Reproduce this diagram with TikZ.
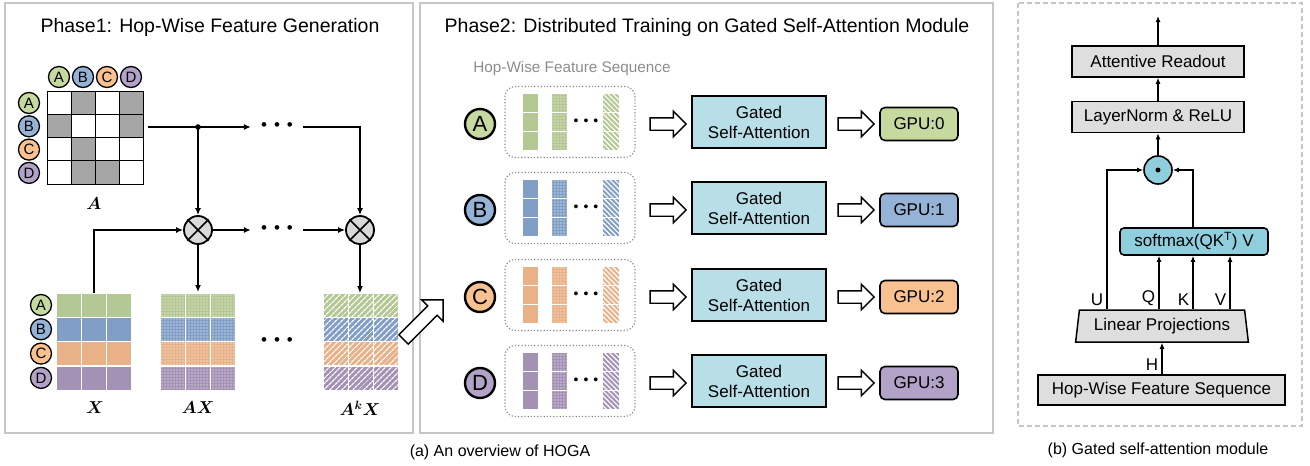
\documentclass[tikz,border=0pt]{standalone}
\usepackage{fontspec}
\setmainfont{Liberation Sans}
\usepackage{amsmath}
\usetikzlibrary{arrows.meta,shapes.arrows,shapes.geometric,patterns.meta,positioning}

\definecolor{cgreen}{HTML}{B4C893}
\definecolor{cblue}{HTML}{819FC6}
\definecolor{corange}{HTML}{E9B187}
\definecolor{cpurple}{HTML}{A491B6}
\definecolor{ggreen}{HTML}{C6D99F}
\definecolor{gblue}{HTML}{95B3D7}
\definecolor{gorange}{HTML}{F9C18F}
\definecolor{gpurple}{HTML}{B3A2C7}
\definecolor{agray}{HTML}{A6A6A6}
\definecolor{prodgray}{HTML}{D9D9D9}
\definecolor{boxgray}{HTML}{DEDEDE}
\definecolor{panelgray}{HTML}{C6C6C6}
\definecolor{seqgray}{HTML}{8C8C8C}
\definecolor{gsablue}{HTML}{B8DFE8}
\definecolor{smblue}{HTML}{8FCFDD}

\newcommand{\hopdots}[1]{\textbullet\hspace{#1}\textbullet\hspace{#1}\textbullet}

\tikzset{
  ttl/.style={font=\fontsize{19.5}{22}\selectfont},
  txt/.style={font=\fontsize{17}{20}\selectfont},
  capt/.style={font=\fontsize{16}{18}\selectfont},
  mlabel/.style={font=\fontsize{18}{18}\selectfont},
  panel/.style={draw=panelgray, line width=2pt},
  flow/.style={line width=1.8pt, -{Latex[length=7pt,width=6pt]}},
  mflow/.style={line width=1.8pt, -{Latex[length=6pt,width=5pt]}},
  smallid/.style={circle, draw, line width=1.3pt, minimum size=21pt, inner sep=0pt,
    font=\fontsize{15}{15}\selectfont},
  bigid/.style={circle, draw, line width=2.4pt, minimum size=30pt, inner sep=0pt,
    font=\fontsize{22}{22}\selectfont},
  prod/.style={circle, draw, line width=1.8pt, fill=prodgray, minimum size=28pt, inner sep=0pt},
  hdots/.style={font=\fontsize{17}{17}\selectfont, inner xsep=10pt, inner ysep=0pt},
  cell/.style={fill=#1, draw=white, line width=1.2pt},
  dotcell/.style={cell=#1, postaction={pattern={Dots[distance=3pt,radius=0.6pt]}, pattern color=white}},
  hatchcell/.style={cell=#1, postaction={pattern={Lines[angle=45,distance=4pt,line width=1.3pt]}, pattern color=white}},
  rhatchcell/.style={cell=#1, postaction={pattern={Lines[angle=-45,distance=3.5pt,line width=1.2pt]}, pattern color=white}},
  seqbox/.style={draw=seqgray, dotted, line width=1.2pt, rounded corners=10pt,
    minimum width=130pt, minimum height=71pt},
  hollow/.style={single arrow, draw, line width=1.4pt, fill=white, minimum height=36pt,
    inner xsep=0pt, inner ysep=5.5pt, single arrow head extend=6.5pt, single arrow head indent=0pt},
  gsa/.style={draw, line width=1.6pt, fill=gsablue, minimum width=134pt, minimum height=52pt,
    align=center, txt, inner sep=0pt},
  gpu/.style={draw, line width=1.6pt, rounded corners=5pt, minimum width=78pt, minimum height=33pt, txt},
  graybox/.style={draw, line width=1.5pt, fill=boxgray, minimum width=172pt, minimum height=31pt,
    txt, inner sep=0pt},
  lab/.style={txt, above left, inner sep=3pt},
}

\begin{document}
\begin{tikzpicture}[x=1pt,y=-1pt]
	\useasboundingbox (0,0) rectangle (1310,466);
	% panels
	\draw[panel] (5,3) rectangle (413,433);
	\draw[panel] (420,3) rectangle (993,433);
	\draw[draw=panelgray, line width=1.5pt, dash pattern=on 5pt off 3pt] (1018,3) rectangle (1302,426);
	\node[ttl] (title1) at (210,27) {Phase1: Hop-Wise Feature Generation};
	\node[ttl] (title2) at (707,27) {Phase2: Distributed Training on Gated Self-Attention Module};
	\node[capt] (capa) at (500,452) {(a) An overview of HOGA};
	\node[capt] (capb) at (1158,450) {(b) Gated self-attention module};

	% adjacency matrix A
	\foreach \col/\row in {1/0,3/0,0/1,3/1,1/2,1/3,2/3}
	\fill[agray] (47+24*\col,91+23.25*\row) rectangle ++(24,23.25);
	\foreach \col in {0,...,3}
	\foreach \row in {0,...,3}
	\draw[line width=1pt] (47+24*\col,91+23.25*\row) rectangle ++(24,23.25);
	\node[mlabel] (labA) at (94,204) {$\boldsymbol{A}$};

	% node ids and feature matrices
	\foreach \l/\g/\c [count=\k from 0] in {A/ggreen/cgreen,B/gblue/cblue,C/gorange/corange,D/gpurple/cpurple} {
		\node[smallid, fill=\g] (col\l) at (59+24*\k,77) {\l};
		\node[smallid, fill=\g] (row\l) at (29,103+23.3*\k) {\l};
		\node[smallid, fill=\g] (xrow\l) at (41,305+24.3*\k) {\l};
		\foreach \j in {0,1,2} {
			\path[cell=\c] (56+25.3*\j,293+24.3*\k) rectangle ++(25.3,24.3);
			\path[dotcell=\c] (160+25.3*\j,293+24.3*\k) rectangle ++(25.3,24.3);
			\path[hatchcell=\c] (323+25.3*\j,293+24.3*\k) rectangle ++(25.3,24.3);
		}
	}
	\node[mlabel] (labX) at (95,408) {$\boldsymbol{X}$};
	\node[mlabel] (labAX) at (198,408) {$\boldsymbol{AX}$};
	\node[mlabel] (labAkX) at (360,408) {$\boldsymbol{A^kX}$};

	% propagation
	\coordinate (aout) at (148,127);
	\coordinate (fork) at (198,127);
	\coordinate (xtop) at (94,293);
	\coordinate (axtop) at (198,292);
	\coordinate (akxtop) at (360,293);
	\node[hdots] (dots1) at (277,127) {\hopdots{7pt}};
	\node[hdots] (dots2) at (277,230) {\hopdots{7pt}};
	\node[hdots] (dots3) at (277,342) {\hopdots{7pt}};
	\node[prod] (ot1) at (198,230) {};
	\node[prod] (ot2) at (360,230) {};
	\foreach \n in {ot1,ot2}
	\draw[line width=1.5pt] (\n.north west) -- (\n.south east) (\n.north east) -- (\n.south west);
	\draw[flow] (aout) -- (dots1.west);
	\draw[flow] (dots1.east) -| (ot2);
	\fill (fork) circle (2.8);
	\draw[flow] (fork) -- (ot1);
	\draw[flow] (xtop) |- (ot1);
	\draw[flow] (ot1) -- (dots2.west);
	\draw[flow] (dots2.east) -- (ot2);
	\draw[flow] (ot1) -- (axtop);
	\draw[flow] (ot2) -- (akxtop);
	\node[hollow, rotate=45, minimum height=56pt, inner ysep=6pt,
	single arrow head extend=8.5pt] (handover) at (421,322) {};

	% phase 2
	\node[font=\fontsize{15.3}{17}\selectfont, text=seqgray] (seqtitle) at (572,69) {Hop-Wise Feature Sequence};
	\foreach \l/\g/\c/\y [count=\i from 0] in {A/ggreen/cgreen/122,B/gblue/cblue/208,C/gorange/corange/295,D/gpurple/cpurple/381} {
		\node[bigid, fill=\g] (id\l) at (480,\y+2) {\l};
		\node[seqbox] (seq\l) at (570,\y) {};
		\foreach \j in {0,1,2} {
			\path[cell=\c] (522,\y-28.5+19*\j) rectangle ++(17,19);
			\path[dotcell=\c] (551,\y-28.5+19*\j) rectangle ++(17,19);
			\path[rhatchcell=\c] (602,\y-28.5+19*\j) rectangle ++(18,19);
		}
		\node[font=\fontsize{14}{14}\selectfont, inner sep=0pt] (sdots\l) at (586,\y) {\hopdots{5pt}};
		\node[hollow] (in\l) at (665,\y+2) {};
		\node[gsa] (gsa\l) at (759,\y) {Gated\\Self-Attention};
		\node[hollow] (out\l) at (853,\y+2) {};
		\node[gpu, fill=\g] (gpu\l) at (919,\y+2) {GPU:\i};
	}

	% gated self-attention module
	\node[graybox] (readout) at (1158,61.5) {Attentive Readout};
	\node[graybox] (lnorm) at (1158,117) {LayerNorm \& ReLU};
	\node[circle, draw, line width=1.6pt, fill=smblue, minimum size=28pt] (gate) at (1158,170) {};
	\fill (gate) circle (2.5);
	\node[draw, line width=1.6pt, fill=smblue, rounded corners=4pt, minimum width=148pt,
	minimum height=27pt, txt, inner sep=0pt] (smax) at (1194,241.5) {softmax(QK\textsuperscript{T}) V};
	\node[trapezium, trapezium angle=79, trapezium stretches=true, draw, line width=1.5pt,
	fill=boxgray, minimum width=173pt, minimum height=32pt, txt, inner sep=0pt] (proj) at (1162,326) {Linear Projections};
	\node[graybox, minimum width=247pt, minimum height=30pt] (hwfs) at (1161.5,390) {Hop-Wise Feature Sequence};
	\coordinate (top) at (1158,16);
	\coordinate (ucol) at (1107,0);
	\coordinate (qcol) at (1159,0);
	\coordinate (kcol) at (1193,0);
	\coordinate (vcol) at (1230,0);
	\coordinate (hcol) at (1162,0);
	\draw[mflow] (readout) -- (top);
	\draw[mflow] (lnorm) -- (readout);
	\draw[mflow] (gate) -- (lnorm);
	\draw[mflow] (proj.north -| ucol) node[lab] {U} |- (gate.west);
	\draw[mflow] (smax.north -| kcol) |- (gate.east);
	\draw[mflow] (proj.north -| qcol) node[lab] {Q} -- (smax.south -| qcol);
	\draw[mflow] (proj.north -| kcol) node[lab] {K} -- (smax.south -| kcol);
	\draw[mflow] (proj.north -| vcol) node[lab] {V} -- (smax.south -| vcol);
	\draw[mflow] (hwfs.north -| hcol) -- node[txt, left, pos=0.3, inner sep=3pt] {H} (proj.south -| hcol);
\end{tikzpicture}
\end{document}
